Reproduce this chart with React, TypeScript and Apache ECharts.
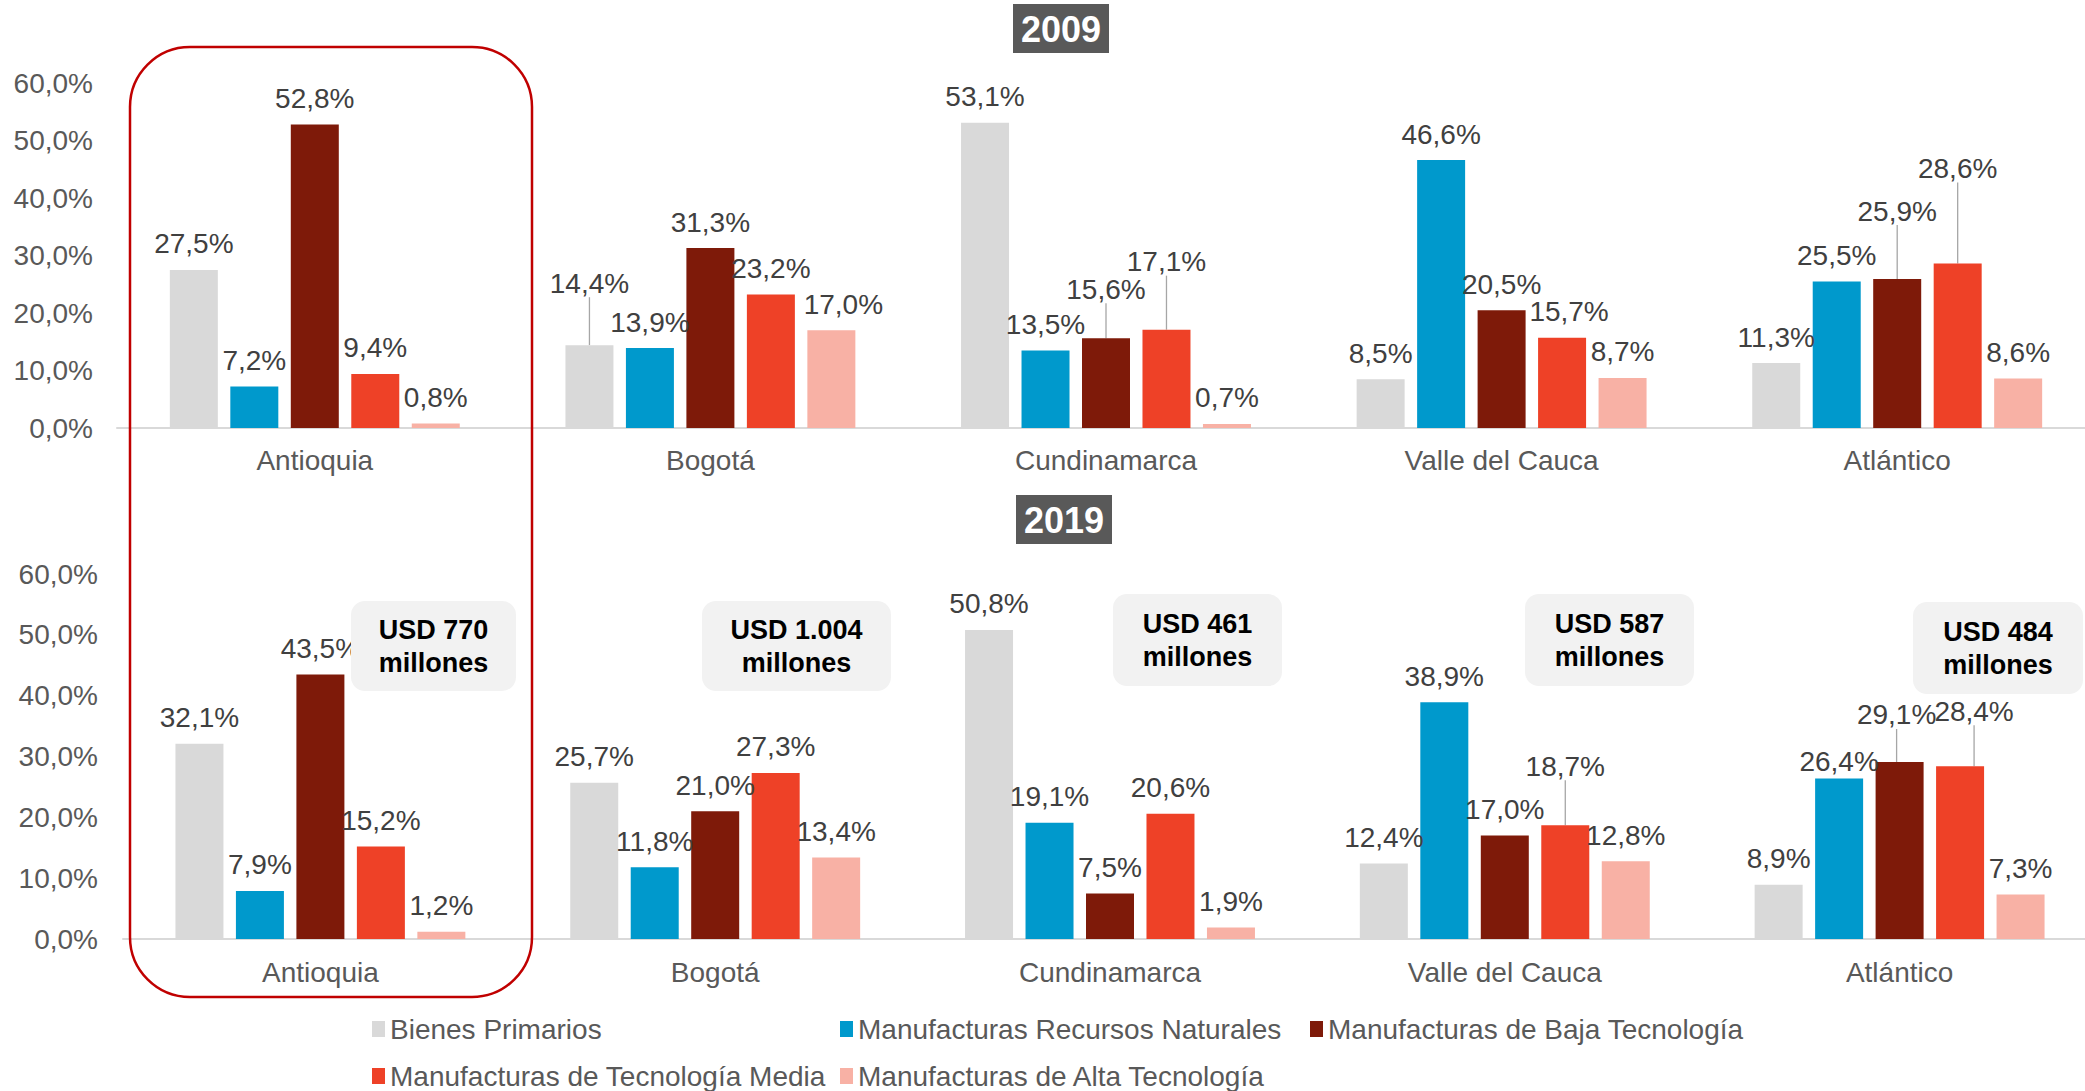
import React, { useEffect, useRef } from 'react';
import * as echarts from 'echarts';

const categories = ['Antioquia', 'Bogotá', 'Cundinamarca', 'Valle del Cauca', 'Atlántico'];
const seriesNames = [
  'Bienes Primarios',
  'Manufacturas Recursos Naturales',
  'Manufacturas de Baja Tecnología',
  'Manufacturas de Tecnología Media',
  'Manufacturas de Alta Tecnología',
];
const colors = ['#D9D9D9', '#0099CC', '#7E1A09', '#EE4127', '#F8B1A5'];

// 2009
const primarios2009 = [27.5, 14.4, 53.1, 8.5, 11.3];
const recursos2009 = [7.2, 13.9, 13.5, 46.6, 25.5];
const baja2009 = [52.8, 31.3, 15.6, 20.5, 25.9];
const media2009 = [9.4, 23.2, 17.1, 15.7, 28.6];
const alta2009 = [0.8, 17.0, 0.7, 8.7, 8.6];

// 2019
const primarios2019 = [32.1, 25.7, 50.8, 12.4, 8.9];
const recursos2019 = [7.9, 11.8, 19.1, 38.9, 26.4];
const baja2019 = [43.5, 21.0, 7.5, 17.0, 29.1];
const media2019 = [15.2, 27.3, 20.6, 18.7, 28.4];
const alta2019 = [1.2, 13.4, 1.9, 12.8, 7.3];

const years = ['2009', '2019'];
const totals2019 = ['USD 770', 'USD 1.004', 'USD 461', 'USD 587', 'USD 484'];
const totalsUnit = 'millones';

const yMin = 0;
const yMax = 60;
const yInterval = 10;

// label adjustments: key `${grid}-${series}-${category}` -> [dx, dy, leaderLine]
const labelAdjust: Record<string, [number, number, boolean]> = {
  '0-0-1': [0, -36, true],
  '0-2-2': [0, -23, true],
  '0-3-2': [0, -42, true],
  '0-2-4': [0, -42, true],
  '0-3-4': [0, -69, true],
  '0-4-1': [12, 0, false],
  '0-3-3': [7, 0, false],
  '1-3-3': [0, -33, true],
  '1-2-4': [-3, -21, true],
  '1-3-4': [14, -29, true],
  '1-1-4': [0, 9, false],
};

const FONT = 'Liberation Sans, Arial, Helvetica, sans-serif';
const FS = 28;
const fmt = (v: number) => v.toFixed(1).replace('.', ',') + '%';

export default function App() {
  const ref = useRef<HTMLDivElement>(null);

  useEffect(() => {
    if (!ref.current) return;
    const chart = echarts.init(ref.current, undefined, { renderer: 'svg' });

    const data2009 = [primarios2009, recursos2009, baja2009, media2009, alta2009];
    const data2019 = [primarios2019, recursos2019, baja2019, media2019, alta2019];
    const allData = [data2009, data2019];

    const grids = [
      { left: 117, top: 83, width: 1978, height: 345, outerBoundsMode: 'none', containLabel: false },
      { left: 123, top: 574, width: 1974, height: 365, outerBoundsMode: 'none', containLabel: false },
    ];
    const yLabelMargin = [24, 25];
    const xLabelMargin = [18, 19];

    const series: any[] = [];
    allData.forEach((block, g) => {
      block.forEach((vals, s) => {
        series.push({
          type: 'bar',
          name: seriesNames[s],
          xAxisIndex: g,
          yAxisIndex: g,
          barWidth: 48,
          barGap: '26%',
          itemStyle: { color: colors[s] },
          label: {
            show: true,
            position: 'top',
            distance: 12,
            formatter: (p: any) => fmt(p.value),
            fontFamily: FONT,
            fontSize: FS,
            color: '#404040',
          },
          labelLine: { show: false },
          labelLayout: (p: any) => {
            const adj = labelAdjust[`${g}-${s}-${p.dataIndex}`];
            if (!adj) return {};
            return { dx: adj[0], dy: adj[1] };
          },
          data: vals.map((v, i) => {
            const adj = labelAdjust[`${g}-${s}-${i}`];
            if (adj && adj[2]) {
              return {
                value: v,
                labelLine: { show: true, length2: 0, lineStyle: { color: '#A6A6A6', width: 1.3 } },
              };
            }
            return v;
          }),
        });
      });
    });

    const legendPos = [
      { left: 372, top: 1014 },
      { left: 840, top: 1014 },
      { left: 1310, top: 1014 },
      { left: 372, top: 1061 },
      { left: 840, top: 1061 },
    ];

    const graphic: any[] = [];
    // year headers
    const yearBoxes = [
      { x: 1013, y: 4 },
      { x: 1016, y: 495 },
    ];
    years.forEach((yr, i) => {
      graphic.push({
        type: 'rect',
        z: 100,
        shape: { x: yearBoxes[i].x, y: yearBoxes[i].y, width: 96, height: 49 },
        style: { fill: '#595959' },
      });
      graphic.push({
        type: 'text',
        z: 101,
        x: yearBoxes[i].x + 48,
        y: yearBoxes[i].y + 25,
        style: {
          text: yr,
          fill: '#FFFFFF',
          fontFamily: FONT,
          fontWeight: 'bold',
          fontSize: 36,
          align: 'center',
          verticalAlign: 'middle',
        },
      });
    });

    // totals boxes
    const boxes = [
      { x: 351, y: 601, w: 165, h: 90 },
      { x: 702, y: 601, w: 189, h: 90 },
      { x: 1113, y: 594, w: 169, h: 92 },
      { x: 1525, y: 594, w: 169, h: 92 },
      { x: 1913, y: 602, w: 170, h: 92 },
    ];
    totals2019.forEach((t, i) => {
      const b = boxes[i];
      graphic.push({
        type: 'rect',
        z: 100,
        shape: { x: b.x, y: b.y, width: b.w, height: b.h, r: 14 },
        style: { fill: '#F2F2F2' },
      });
      graphic.push({
        type: 'text',
        z: 101,
        x: b.x + b.w / 2,
        y: b.y + b.h / 2,
        style: {
          text: t + '\n' + totalsUnit,
          fill: '#000000',
          fontFamily: FONT,
          fontWeight: 'bold',
          fontSize: 27,
          lineHeight: 33,
          align: 'center',
          verticalAlign: 'middle',
        },
      });
    });

    // highlight frame around Antioquia
    graphic.push({
      type: 'rect',
      z: 102,
      shape: { x: 130, y: 47, width: 402, height: 950, r: 60 },
      style: { fill: 'none', stroke: '#C00000', lineWidth: 2.5 },
    });

    const option: any = {
      animation: false,
      backgroundColor: '#FFFFFF',
      textStyle: { fontFamily: FONT },
      grid: grids,
      xAxis: grids.map((_, g) => ({
        type: 'category',
        gridIndex: g,
        data: categories,
        axisTick: { show: false },
        axisLine: { show: true, lineStyle: { color: '#D9D9D9', width: 2 } },
        axisLabel: { fontFamily: FONT, fontSize: FS, color: '#595959', margin: xLabelMargin[g] },
      })),
      yAxis: grids.map((_, g) => ({
        type: 'value',
        gridIndex: g,
        min: yMin,
        max: yMax,
        interval: yInterval,
        splitLine: { show: false },
        axisLine: { show: false },
        axisTick: { show: false },
        axisLabel: {
          fontFamily: FONT,
          fontSize: FS,
          color: '#595959',
          margin: yLabelMargin[g],
          formatter: (v: number) => fmt(v),
        },
      })),
      legend: seriesNames.map((n, i) => ({
        data: [n],
        left: legendPos[i].left,
        top: legendPos[i].top,
        padding: 0,
        icon: 'rect',
        itemWidth: 13,
        itemHeight: 16,
        selectedMode: false,
        textStyle: { fontFamily: FONT, fontSize: FS, color: '#595959', lineHeight: 30 },
      })),
      series,
      graphic,
    };

    chart.setOption(option);
    return () => chart.dispose();
  }, []);

  return (
    <div
      ref={ref}
      style={{ position: 'fixed', left: 0, top: 0, width: 2085, height: 1091, background: '#fff' }}
    />
  );
}
